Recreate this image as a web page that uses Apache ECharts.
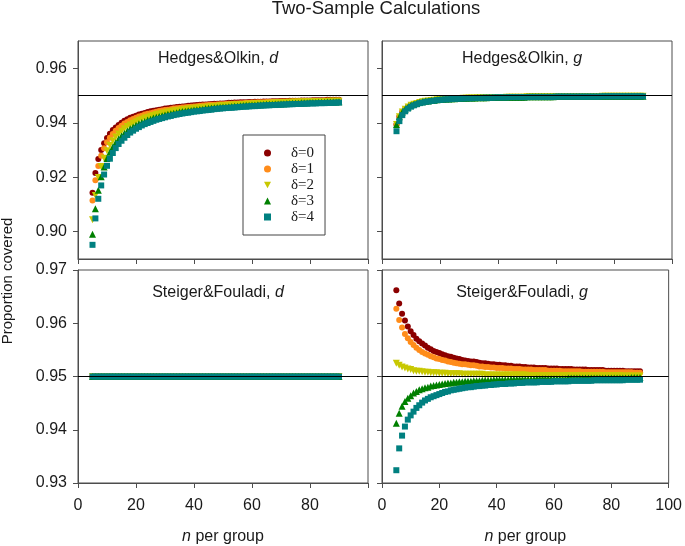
<!DOCTYPE html>
<html><head><meta charset="utf-8">
<script src="https://cdn.jsdelivr.net/npm/echarts@6/dist/echarts.min.js"></script>
<style>html,body{margin:0;padding:0;background:#fff}#c{width:685px;height:546px}</style>
</head><body><div id="c"></div>
<script>
// ---- data ----
const nPerGroup = [5,6,7,8,9,10,11,12,13,14,15,16,17,18,19,20,21,22,23,24,25,26,27,28,29,30,31,32,33,34,35,36,37,38,39,40,41,42,43,44,45,46,47,48,49,50,51,52,53,54,55,56,57,58,59,60,61,62,63,64,65,66,67,68,69,70,71,72,73,74,75,76,77,78,79,80,81,82,83,84,85,86,87,88,89,90];
const deltaNames = ['δ=0','δ=1','δ=2','δ=3','δ=4'];
const xTicks = [0,20,40,60,80,100];
const yTicksTop = [0.90,0.92,0.94,0.96];
const yTicksBottom = [0.93,0.94,0.95,0.96,0.97];
const panelTitles = [['Hedges&Olkin, ','d'],['Hedges&Olkin, ','g'],['Steiger&Fouladi, ','d'],['Steiger&Fouladi, ','g']];

// Hedges&Olkin, d
const hoD0 = [.9143,.9216,.9267,.9300,.9325,.9344,.9360,.9373,.9383,.9392,
.9400,.9407,.9413,.9418,.9422,.9426,.9430,.9433,.9436,.9439,
.9442,.9444,.9446,.9448,.9450,.9452,.9453,.9455,.9456,.9458,
.9459,.9460,.9461,.9462,.9463,.9464,.9465,.9466,.9467,.9467,
.9468,.9469,.9470,.9470,.9471,.9471,.9472,.9473,.9473,.9474,
.9474,.9475,.9475,.9475,.9476,.9476,.9477,.9477,.9477,.9478,
.9478,.9478,.9479,.9479,.9479,.9480,.9480,.9480,.9481,.9481,
.9481,.9481,.9482,.9482,.9482,.9482,.9483,.9483,.9483,.9483,
.9483,.9484,.9484,.9484,.9484,.9484];
const hoD1 = [.9115,.9189,.9241,.9279,.9306,.9328,.9345,.9359,.9371,.9381,
.9389,.9397,.9403,.9409,.9414,.9418,.9423,.9426,.9430,.9433,
.9435,.9438,.9440,.9443,.9445,.9447,.9448,.9450,.9452,.9453,
.9454,.9456,.9457,.9458,.9459,.9460,.9461,.9462,.9463,.9464,
.9465,.9466,.9466,.9467,.9468,.9468,.9469,.9470,.9470,.9471,
.9471,.9472,.9472,.9473,.9473,.9474,.9474,.9475,.9475,.9475,
.9476,.9476,.9477,.9477,.9477,.9478,.9478,.9478,.9478,.9479,
.9479,.9479,.9480,.9480,.9480,.9480,.9481,.9481,.9481,.9481,
.9482,.9482,.9482,.9482,.9482,.9483];
const hoD2 = [.9044,.9133,.9199,.9239,.9270,.9297,.9317,.9334,.9348,.9359,
.9369,.9378,.9386,.9392,.9398,.9404,.9409,.9413,.9417,.9420,
.9424,.9427,.9430,.9432,.9435,.9437,.9439,.9441,.9443,.9445,
.9446,.9448,.9449,.9451,.9452,.9453,.9454,.9455,.9456,.9457,
.9458,.9459,.9460,.9461,.9462,.9463,.9463,.9464,.9465,.9465,
.9466,.9467,.9467,.9468,.9468,.9469,.9470,.9470,.9470,.9471,
.9471,.9472,.9472,.9473,.9473,.9473,.9474,.9474,.9475,.9475,
.9475,.9476,.9476,.9476,.9477,.9477,.9477,.9477,.9478,.9478,
.9478,.9478,.9479,.9479,.9479,.9479];
const hoD3 = [.8991,.9084,.9152,.9202,.9238,.9269,.9292,.9311,.9327,.9340,
.9351,.9361,.9370,.9378,.9384,.9391,.9396,.9401,.9405,.9410,
.9413,.9417,.9420,.9423,.9426,.9428,.9431,.9433,.9435,.9437,
.9439,.9441,.9442,.9444,.9445,.9447,.9448,.9449,.9450,.9452,
.9453,.9454,.9455,.9456,.9457,.9458,.9458,.9459,.9460,.9461,
.9461,.9462,.9463,.9464,.9464,.9465,.9465,.9466,.9466,.9467,
.9468,.9468,.9468,.9469,.9469,.9470,.9470,.9471,.9471,.9472,
.9472,.9472,.9473,.9473,.9473,.9474,.9474,.9474,.9475,.9475,
.9475,.9476,.9476,.9476,.9476,.9477];
const hoD4 = [.8952,.9049,.9121,.9170,.9210,.9242,.9268,.9289,.9307,.9322,
.9334,.9345,.9355,.9364,.9371,.9378,.9384,.9390,.9395,.9399,
.9403,.9407,.9411,.9414,.9417,.9420,.9423,.9425,.9428,.9430,
.9432,.9434,.9436,.9437,.9439,.9441,.9442,.9443,.9445,.9446,
.9447,.9448,.9450,.9451,.9452,.9453,.9454,.9455,.9455,.9456,
.9457,.9458,.9459,.9459,.9460,.9461,.9461,.9462,.9463,.9463,
.9464,.9464,.9465,.9465,.9466,.9466,.9467,.9467,.9468,.9468,
.9469,.9469,.9469,.9470,.9470,.9471,.9471,.9471,.9472,.9472,
.9472,.9473,.9473,.9473,.9474,.9474];

// Hedges&Olkin, g (delta 0-3 overlap almost completely)
const hoG03 = [.9394,.9422,.9439,.9450,.9458,.9464,.9468,.9471,.9474,.9477,
.9479,.9480,.9482,.9483,.9484,.9485,.9486,.9487,.9487,.9488,
.9488,.9489,.9489,.9490,.9490,.9491,.9491,.9491,.9492,.9492,
.9492,.9492,.9493,.9493,.9493,.9493,.9493,.9493,.9494,.9494,
.9494,.9494,.9494,.9494,.9494,.9495,.9495,.9495,.9495,.9495,
.9495,.9495,.9495,.9495,.9495,.9496,.9496,.9496,.9496,.9496,
.9496,.9496,.9496,.9496,.9496,.9496,.9496,.9496,.9496,.9496,
.9496,.9497,.9497,.9497,.9497,.9497,.9497,.9497,.9497,.9497,
.9497,.9497,.9497,.9497,.9497,.9497];
const hoG4 = [.9369,.9406,.9428,.9442,.9452,.9459,.9464,.9468,.9472,.9474,
.9477,.9478,.9480,.9481,.9483,.9484,.9485,.9486,.9486,.9487,
.9488,.9488,.9489,.9489,.9490,.9490,.9490,.9491,.9491,.9491,
.9492,.9492,.9492,.9492,.9493,.9493,.9493,.9493,.9493,.9494,
.9494,.9494,.9494,.9494,.9494,.9494,.9495,.9495,.9495,.9495,
.9495,.9495,.9495,.9495,.9495,.9496,.9496,.9496,.9496,.9496,
.9496,.9496,.9496,.9496,.9496,.9496,.9496,.9496,.9496,.9496,
.9496,.9497,.9497,.9497,.9497,.9497,.9497,.9497,.9497,.9497,
.9497,.9497,.9497,.9497,.9497,.9497];

// Steiger&Fouladi, d (all deltas on the nominal level)
const sfD = [.95,.95,.95,.95,.95,.95,.95,.95,.95,.95,
.95,.95,.95,.95,.95,.95,.95,.95,.95,.95,
.95,.95,.95,.95,.95,.95,.95,.95,.95,.95,
.95,.95,.95,.95,.95,.95,.95,.95,.95,.95,
.95,.95,.95,.95,.95,.95,.95,.95,.95,.95,
.95,.95,.95,.95,.95,.95,.95,.95,.95,.95,
.95,.95,.95,.95,.95,.95,.95,.95,.95,.95,
.95,.95,.95,.95,.95,.95,.95,.95,.95,.95,
.95,.95,.95,.95,.95,.95];

// Steiger&Fouladi, g
const sfG0 = [.9662,.9637,.9618,.9605,.9594,.9585,.9578,.9571,.9566,.9562,
.9558,.9554,.9551,.9548,.9546,.9544,.9542,.9540,.9538,.9537,
.9535,.9534,.9533,.9531,.9530,.9529,.9528,.9528,.9527,.9526,
.9525,.9525,.9524,.9523,.9523,.9522,.9522,.9521,.9521,.9520,
.9520,.9519,.9519,.9519,.9518,.9518,.9517,.9517,.9517,.9516,
.9516,.9516,.9516,.9515,.9515,.9515,.9515,.9514,.9514,.9514,
.9514,.9514,.9513,.9513,.9513,.9513,.9513,.9512,.9512,.9512,
.9512,.9512,.9512,.9511,.9511,.9511,.9511,.9511,.9511,.9511,
.9510,.9510,.9510,.9510,.9510,.9510];
const sfG1 = [.9627,.9606,.9592,.9580,.9572,.9565,.9559,.9554,.9550,.9546,
.9543,.9541,.9538,.9536,.9534,.9533,.9531,.9530,.9528,.9527,
.9526,.9525,.9524,.9523,.9523,.9522,.9521,.9521,.9520,.9519,
.9519,.9518,.9518,.9517,.9517,.9516,.9516,.9516,.9515,.9515,
.9515,.9514,.9514,.9514,.9513,.9513,.9513,.9513,.9512,.9512,
.9512,.9512,.9512,.9511,.9511,.9511,.9511,.9511,.9510,.9510,
.9510,.9510,.9510,.9510,.9510,.9509,.9509,.9509,.9509,.9509,
.9509,.9509,.9509,.9508,.9508,.9508,.9508,.9508,.9508,.9508,
.9508,.9508,.9508,.9507,.9507,.9507];
const sfG2 = [.9525,.9521,.9518,.9516,.9514,.9513,.9511,.9510,.9510,.9509,
.9508,.9508,.9507,.9507,.9507,.9506,.9506,.9506,.9505,.9505,
.9505,.9505,.9505,.9504,.9504,.9504,.9504,.9504,.9504,.9504,
.9504,.9503,.9503,.9503,.9503,.9503,.9503,.9503,.9503,.9503,
.9503,.9503,.9503,.9503,.9503,.9503,.9502,.9502,.9502,.9502,
.9502,.9502,.9502,.9502,.9502,.9502,.9502,.9502,.9502,.9502,
.9502,.9502,.9502,.9502,.9502,.9502,.9502,.9502,.9502,.9502,
.9502,.9502,.9502,.9502,.9502,.9502,.9502,.9502,.9502,.9501,
.9501,.9501,.9501,.9501,.9501,.9501];
const sfG3 = [.9412,.9431,.9444,.9453,.9459,.9464,.9469,.9472,.9475,.9477,
.9479,.9480,.9482,.9483,.9484,.9485,.9486,.9487,.9488,.9488,
.9489,.9489,.9490,.9490,.9491,.9491,.9491,.9492,.9492,.9492,
.9493,.9493,.9493,.9493,.9494,.9494,.9494,.9494,.9494,.9494,
.9495,.9495,.9495,.9495,.9495,.9495,.9495,.9495,.9495,.9496,
.9496,.9496,.9496,.9496,.9496,.9496,.9496,.9496,.9496,.9496,
.9497,.9497,.9497,.9497,.9497,.9497,.9497,.9497,.9497,.9497,
.9497,.9497,.9497,.9497,.9497,.9497,.9497,.9497,.9497,.9497,
.9497,.9497,.9498,.9498,.9498,.9498];
const sfG4 = [.9324,.9365,.9389,.9406,.9419,.9427,.9434,.9441,.9446,.9451,
.9455,.9458,.9461,.9463,.9465,.9467,.9469,.9471,.9472,.9474,
.9475,.9476,.9477,.9478,.9479,.9480,.9480,.9481,.9482,.9482,
.9483,.9483,.9484,.9484,.9485,.9485,.9486,.9486,.9486,.9487,
.9487,.9487,.9488,.9488,.9488,.9489,.9489,.9489,.9489,.9489,
.9490,.9490,.9490,.9490,.9490,.9491,.9491,.9491,.9491,.9491,
.9491,.9492,.9492,.9492,.9492,.9492,.9492,.9492,.9492,.9493,
.9493,.9493,.9493,.9493,.9493,.9493,.9493,.9493,.9493,.9493,
.9494,.9494,.9494,.9494,.9494,.9494];

const panelData = [
  [hoD0, hoD1, hoD2, hoD3, hoD4],
  [hoG03, hoG03, hoG03, hoG03, hoG4],
  [sfD, sfD, sfD, sfD, sfD],
  [sfG0, sfG1, sfG2, sfG3, sfG4]
];

// ---- styles ----
const SANS = '"Liberation Sans", Arial, sans-serif';
const SERIF = '"Liberation Serif", "Times New Roman", serif';
const TXT = '#1a1a1a';
const FRAME = '#4d4d4d';
const colors = ['#8b0000', '#ff8c1a', '#c8c800', '#008000', '#008080'];
const symbols = ['circle', 'circle', 'triangle', 'triangle', 'rect'];
const legendIcons = ['circle', 'circle', 'path://M0,0 L10,0 L5,9 Z', 'triangle', 'rect'];
const symRot = [0, 0, 180, 0, 0];
const symSize = [6, 6, 7, 7, 6];

const gridBoxes = [
  {left: 78, top: 41, width: 290, height: 218},
  {left: 382, top: 41, width: 290, height: 218},
  {left: 78, top: 270, width: 290, height: 215},
  {left: 382, top: 270, width: 290, height: 215}
];

const grid = gridBoxes.map(g => Object.assign({show: true, borderColor: FRAME, borderWidth: 1, containLabel: false}, g));

const xAxis = gridBoxes.map((g, i) => ({
  type: 'value', gridIndex: i, min: xTicks[0], max: xTicks[xTicks.length - 1], interval: 20,
  axisLine: {show: true, onZero: false, lineStyle: {color: FRAME, width: 1}},
  axisTick: {show: true, length: 5, lineStyle: {color: FRAME}},
  splitLine: {show: false},
  axisLabel: {
    show: i >= 2, fontSize: 16, fontFamily: SANS, color: TXT, margin: 15,
    formatter: v => (i === 2 && v === 100) ? '' : String(v)
  },
  name: i >= 2 ? '{i|n} per group' : '',
  nameLocation: 'middle', nameGap: 46,
  nameTextStyle: {fontSize: 16, fontFamily: SANS, color: TXT,
    rich: {i: {fontStyle: 'italic', fontSize: 16, fontFamily: SANS, color: TXT}}}
}));

const yAxis = gridBoxes.map((g, i) => {
  const ticks = i < 2 ? yTicksTop : yTicksBottom;
  return {
    type: 'value', gridIndex: i,
    min: i < 2 ? 0.89 : 0.93, max: 0.97, interval: 0.01,
    axisLine: {show: true, lineStyle: {color: FRAME, width: 1}},
    axisTick: {show: true, length: 5, lineStyle: {color: FRAME}, customValues: ticks},
    splitLine: {show: false},
    axisLabel: {show: i % 2 === 0, fontSize: 16, fontFamily: SANS, color: TXT, margin: 11,
      customValues: ticks, formatter: v => v.toFixed(2)}
  };
});

const series = [];
panelData.forEach((arrs, p) => {
  arrs.forEach((arr, d) => {
    const s = {
      type: 'scatter', name: deltaNames[d], xAxisIndex: p, yAxisIndex: p,
      symbol: symbols[d], symbolSize: symSize[d], symbolRotate: symRot[d],
      itemStyle: {color: colors[d], opacity: 1},
      data: nPerGroup.map((n, k) => [n, arr[k]]),
      emphasis: {disabled: true}, z: 2 + d
    };
    if (d === 4) {
      s.markLine = {silent: true, symbol: 'none', animation: false, z: 10,
        label: {show: false}, lineStyle: {color: '#000', width: 1, type: 'solid'},
        data: [{yAxis: 0.95}]};
    }
    series.push(s);
  });
});

const graphic = panelTitles.map((t, i) => {
  const g = gridBoxes[i];
  return {
    type: 'text', x: g.left + g.width / 2 - 5, y: i < 2 ? 59 : 293, z: 100,
    style: {
      text: '{a|' + t[0] + '}{i|' + t[1] + '}',
      align: 'center', verticalAlign: 'middle',
      fontSize: 16, fontFamily: SANS, fill: TXT,
      rich: {a: {fontSize: 16, fontFamily: SANS, color: TXT},
             i: {fontSize: 16, fontFamily: SANS, color: TXT, fontStyle: 'italic'}}
    }
  };
});
graphic.push({
  type: 'text', x: 8, y: 281, rotation: Math.PI / 2, z: 100,
  style: {text: 'Proportion covered', align: 'center', verticalAlign: 'middle',
    fontSize: 15, fontFamily: SANS, fill: TXT}
});
graphic.push({
  type: 'text', x: 376, y: 9, z: 100,
  style: {text: 'Two-Sample Calculations', align: 'center', verticalAlign: 'middle',
    fontSize: 18.5, fontFamily: SANS, fill: TXT}
});

const option = {
  animation: false,
  backgroundColor: '#fff',
  legend: {
    data: deltaNames.map((nm, d) => ({name: nm, icon: legendIcons[d]})),
    orient: 'vertical', left: 243, top: 135,
    padding: [10, 11, 10, 21], itemWidth: 7, itemHeight: 7, itemGap: 0,
    borderColor: '#444', borderWidth: 1, backgroundColor: '#fff',
    selectedMode: false,
    textStyle: {fontFamily: SERIF, fontSize: 15, lineHeight: 16, color: TXT, padding: [0, 0, 0, 15]}
  },
  grid, xAxis, yAxis, series, graphic
};

const chart = echarts.init(document.getElementById('c'), null, {renderer: 'canvas'});
chart.setOption(option);
</script>
</body></html>
